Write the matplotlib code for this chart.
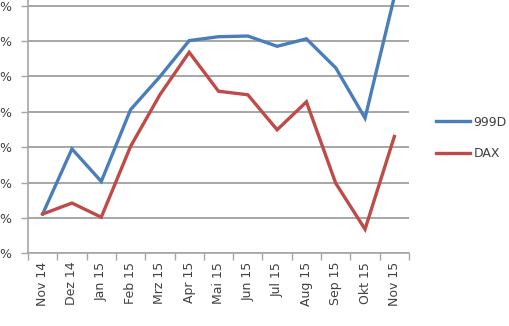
import matplotlib.pyplot as plt
import numpy as np

# === data (one unit = one gridline) ===
months = ['Nov 14', 'Dez 14', 'Jan 15', 'Feb 15', 'Mrz 15', 'Apr 15', 'Mai 15',
          'Jun 15', 'Jul 15', 'Aug 15', 'Sep 15', 'Okt 15', 'Nov 15']
val_999d = [1.11, 2.95, 2.03, 4.06, 4.99, 6.01, 6.12, 6.14, 5.85, 6.06, 5.24, 3.82, 7.25]
val_dax = [1.11, 1.42, 1.02, 3.02, 4.48, 5.68, 4.58, 4.48, 3.49, 4.28, 1.98, 0.68, 3.30]
ytick_vals = [0, 1, 2, 3, 4, 5, 6, 7]
ytick_labels = ['%'] * len(ytick_vals)

plt.rcParams['font.family'] = ['DejaVu Sans']

fig = plt.figure(figsize=(5.1, 3.26), dpi=100)
# axes top runs past the canvas, like the cropped original
ax = fig.add_axes([28 / 510, 72.7 / 326, 381 / 510, 283.1 / 326])

x = np.arange(len(months))
ax.plot(x, val_999d, color='#4a7ebb', linewidth=2.4, label='999D', solid_joinstyle='miter')
ax.plot(x, val_dax, color='#be4b48', linewidth=2.4, label='DAX', solid_joinstyle='miter')

ax.set_xlim(-0.5, len(months) - 0.5)
ax.set_ylim(0, 8)

ax.set_yticks(ytick_vals)
ax.set_yticklabels(ytick_labels, fontsize=9, color='#404040')
ax.yaxis.grid(True, color='#a6a6a6', linewidth=1.4)
ax.set_axisbelow(True)
ax.tick_params(axis='y', length=5, width=1, color='#a6a6a6', pad=7)

ax.set_xticks(x)
ax.set_xticklabels(months, rotation=90, fontsize=9, color='#404040')
ax.set_xticks(np.arange(-0.5, len(months)), minor=True)
ax.tick_params(axis='x', which='major', length=0, pad=6)
ax.tick_params(axis='x', which='minor', length=5, width=1, color='#a6a6a6')

for s in ['top', 'right']:
    ax.spines[s].set_visible(False)
for s in ['left', 'bottom']:
    ax.spines[s].set_color('#a6a6a6')
    ax.spines[s].set_linewidth(1.2)

ax.legend(loc='center left', bbox_to_anchor=(436 / 510, 188 / 326),
          bbox_transform=fig.transFigure, frameon=False, borderpad=0, borderaxespad=0,
          fontsize=9, labelcolor='#404040', handlelength=2.7, handletextpad=0.3,
          labelspacing=1.5)

plt.savefig('out.png', dpi=100)
